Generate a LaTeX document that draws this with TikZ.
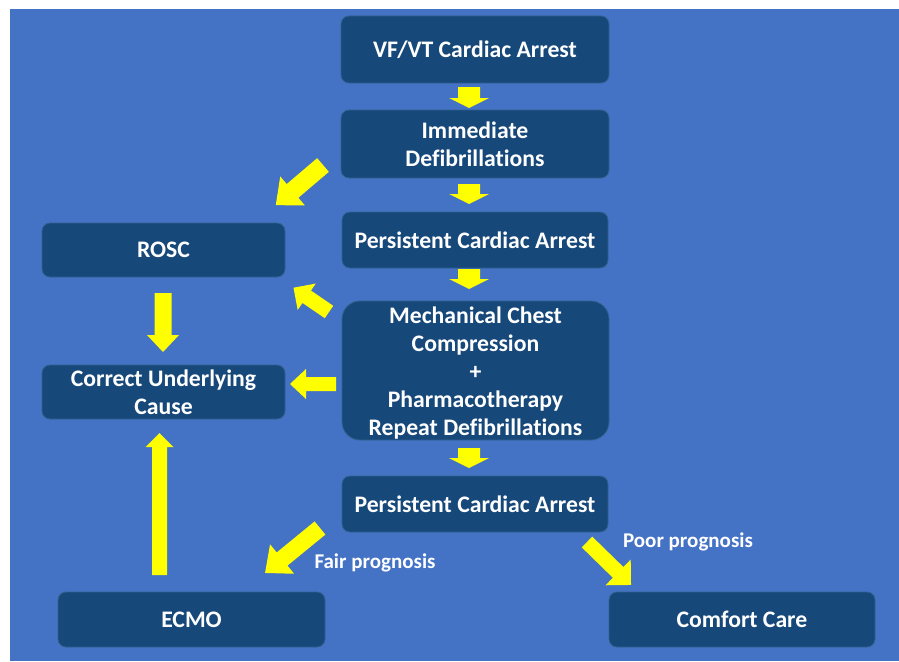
\documentclass[tikz,border=0pt]{standalone}
\usepackage{fontspec}
\setmainfont[Ligatures=NoCommon]{Carlito}
\definecolor{bgblue}{HTML}{4472C4}
\definecolor{boxblue}{HTML}{17487A}
\definecolor{boxedge}{HTML}{33618F}
\definecolor{ayellow}{HTML}{FFFF00}
\tikzset{
  box/.style={draw=boxedge, line width=0.8pt, fill=boxblue, rounded corners=8pt,
    text=white, font=\fontsize{23.7}{28}\selectfont\bfseries, align=center,
    inner sep=0pt},
  lbl/.style={text=white, font=\fontsize{21}{24}\selectfont\bfseries, inner sep=0pt},
  arrowfill/.style={fill=ayellow}
}
% name, x, y, angle, length, shaft width, head width, head length
\newcommand{\yarrow}[8]{%
  \coordinate (#1) at (#2,#3);
  \begin{scope}[shift={(#1)}, rotate=#4]
    \fill[arrowfill] (0,{-#6/2}) -- ({#5-#8},{-#6/2}) -- ({#5-#8},{-#7/2}) -- (#5,0)
      -- ({#5-#8},{#7/2}) -- ({#5-#8},{#6/2}) -- (0,{#6/2}) -- cycle;
  \end{scope}}
\begin{document}
\begin{tikzpicture}[x=1pt,y=-1pt]
\useasboundingbox (0,0) rectangle (899,661);
\fill[bgblue] (10,9) rectangle (899,661);

\node[box, minimum width=268pt, minimum height=67pt] (vf) at (475,49.5) {VF/VT Cardiac Arrest};
\node[box, minimum width=268pt, minimum height=68pt] (imm) at (475,144) {Immediate\\Defibrillations};
\node[box, minimum width=266pt, minimum height=56pt] (p1) at (475,240) {Persistent Cardiac Arrest};
\node[box, rounded corners=18pt, minimum width=267pt, minimum height=139pt] (mech) at (475.5,370.5) {};
\node[text=white, font=\fontsize{23.7}{28}\selectfont\bfseries, align=center, inner sep=0pt]
  (mechtext) at (475.5,373) {Mechanical Chest\\Compression\\+\\Pharmacotherapy\\Repeat Defibrillations};
\node[box, minimum width=266pt, minimum height=56pt] (p2) at (475,504) {Persistent Cardiac Arrest};
\node[box, minimum width=243pt, minimum height=54pt] (rosc) at (163.5,250) {ROSC};
\node[box, minimum width=243pt, minimum height=54pt] (cuc) at (163.5,392) {Correct Underlying\\Cause};
\node[box, minimum width=267pt, minimum height=55pt] (ecmo) at (191.5,619.5) {ECMO};
\node[box, minimum width=266pt, minimum height=55pt] (cc) at (742,619.5) {Comfort Care};

\node[lbl] (fair) at (375,563) {Fair prognosis};
\node[lbl] (poor) at (688,542) {Poor prognosis};

\yarrow{a1}{469}{87}{-90}{21}{22}{40}{10}
\yarrow{a2}{469}{184}{-90}{20}{22}{40}{10}
\yarrow{a3}{469}{269}{-90}{20}{22}{40}{10}
\yarrow{a4}{469}{448}{-90}{20}{22}{40}{10}
\yarrow{a5}{323}{165}{-139.6}{62}{18}{38}{22}
\yarrow{a6}{329}{312}{145.6}{43}{15}{32}{16}
\yarrow{a7}{336}{384}{180}{46}{14}{30}{16}
\yarrow{a8}{163}{293}{-90}{59}{17}{32}{17}
\yarrow{a9}{159.5}{575}{90}{142}{15}{28}{14}
\yarrow{a10}{320}{528}{-140.7}{71}{17}{38}{22}
\yarrow{a11}{587}{542}{-44.3}{61.5}{15}{36}{18}
\end{tikzpicture}
\end{document}
